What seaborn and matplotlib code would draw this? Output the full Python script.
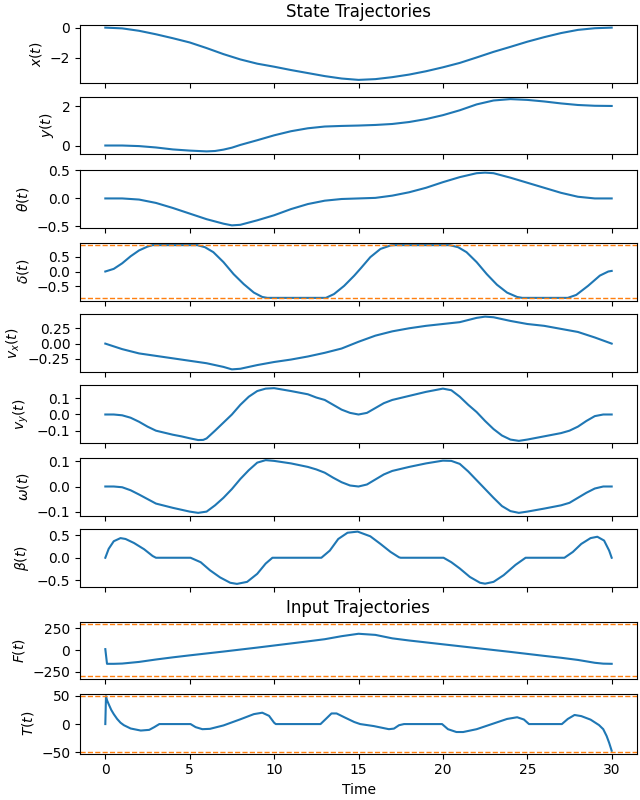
import numpy as np
import matplotlib
matplotlib.use("Agg")
import matplotlib.pyplot as plt
import seaborn as sns

# ---------------- data ----------------
x_t = [0, 1, 2, 3, 4, 5, 6, 7, 8, 9, 10, 11, 12, 13, 14, 15, 16, 17, 18, 19, 20,
       21, 22, 23, 24, 25, 26, 27, 28, 29, 30]
x_v = [0, -0.05, -0.21, -0.44, -0.7, -0.98, -1.35, -1.75, -2.1, -2.38, -2.58, -2.8,
       -3.0, -3.2, -3.36, -3.45, -3.4, -3.27, -3.1, -2.88, -2.62, -2.33, -1.97,
       -1.6, -1.27, -0.93, -0.63, -0.36, -0.15, -0.04, 0]

y_t = [0, 1, 2, 3, 4, 5, 6, 6.5, 7, 7.5, 8, 8.5, 9, 10, 11, 12, 13, 14, 15, 16, 17,
       18, 19, 20, 21, 22, 23, 24, 25, 26, 27, 28, 29, 30]
y_v = [0, 0.0, -0.03, -0.1, -0.2, -0.26, -0.3, -0.28, -0.21, -0.11, 0.03, 0.15,
       0.27, 0.52, 0.73, 0.88, 0.97, 1.0, 1.02, 1.05, 1.1, 1.2, 1.35, 1.55, 1.8,
       2.1, 2.3, 2.37, 2.33, 2.25, 2.15, 2.07, 2.03, 2.02]

th_t = [0, 1, 2, 3, 4, 5, 6, 7, 7.5, 8, 9, 10, 11, 12, 13, 14, 15, 16, 17, 18, 19,
        20, 21, 22, 22.5, 23, 24, 25, 26, 27, 28, 29, 30]
th_v = [0, 0.0, -0.02, -0.08, -0.17, -0.27, -0.37, -0.45, -0.48, -0.47, -0.39,
        -0.3, -0.19, -0.1, -0.04, -0.01, 0.0, 0.01, 0.05, 0.11, 0.19, 0.29, 0.38,
        0.45, 0.46, 0.45, 0.37, 0.28, 0.19, 0.1, 0.03, 0.0, 0.0]

de_t = [0, 0.5, 1, 1.5, 2, 2.5, 2.8, 5.45, 5.9, 6.4, 7, 7.6, 8.2, 8.8, 9.3, 9.6,
        13.07, 13.55, 14.15, 14.75, 15.15, 15.7, 16.3, 16.9, 17.1, 20.4, 20.9,
        21.4, 22, 22.6, 23.2, 23.8, 24.4, 24.7, 27.4, 27.9, 28.6, 29.3, 29.8, 30]
de_v = [0, 0.09, 0.28, 0.52, 0.72, 0.85, 0.9, 0.9, 0.83, 0.66, 0.32, -0.09, -0.43,
        -0.72, -0.87, -0.9, -0.9, -0.77, -0.49, -0.14, 0.12, 0.49, 0.77, 0.89, 0.9,
        0.9, 0.83, 0.66, 0.32, -0.09, -0.45, -0.72, -0.87, -0.9, -0.9, -0.8, -0.49,
        -0.14, 0.0, 0.02]
de_lim = 0.9

vx_t = [0, 1, 2, 3, 4, 5, 6, 7, 7.5, 8, 9, 10, 11, 12, 13, 14, 15, 16, 17, 18, 19,
        20, 21, 22, 22.5, 23, 24, 25, 26, 27, 28, 29, 30]
vx_v = [0.0, -0.09, -0.16, -0.2, -0.24, -0.28, -0.32, -0.38, -0.42, -0.41, -0.35,
        -0.3, -0.26, -0.21, -0.15, -0.08, 0.03, 0.13, 0.2, 0.25, 0.29, 0.32, 0.35,
        0.42, 0.44, 0.43, 0.37, 0.32, 0.29, 0.24, 0.19, 0.1, 0.0]

vy_t = [0, 0.5, 1, 1.5, 2, 2.5, 3, 4, 4.5, 5, 5.5, 5.8, 6, 6.5, 7, 7.5, 8, 8.5, 9,
        9.5, 10, 11, 12, 12.5, 13, 13.5, 14, 14.5, 15, 15.5, 16, 16.5, 17, 18, 19,
        20, 20.5, 21, 21.5, 22, 22.5, 23, 23.5, 24, 24.5, 25, 26, 27, 27.5, 28,
        28.5, 29, 29.5, 30]
vy_v = [0.0, 0.0, -0.005, -0.02, -0.045, -0.075, -0.1, -0.125, -0.135, -0.147,
        -0.158, -0.157, -0.148, -0.1, -0.05, 0.0, 0.06, 0.11, 0.145, 0.16, 0.163,
        0.145, 0.125, 0.105, 0.09, 0.06, 0.03, 0.01, 0.0, 0.01, 0.04, 0.07, 0.09,
        0.115, 0.14, 0.16, 0.15, 0.11, 0.06, 0.015, -0.04, -0.09, -0.13, -0.155,
        -0.163, -0.155, -0.135, -0.115, -0.1, -0.075, -0.04, -0.01, 0.0, 0.0]

om_t = [0, 0.5, 1, 1.5, 2, 2.5, 3, 4, 5, 5.5, 6, 6.5, 7, 7.5, 8, 8.5, 9, 9.5, 10,
        11, 12, 12.5, 13, 13.5, 14, 14.5, 15, 15.5, 16, 16.5, 17, 18, 19, 20, 20.5,
        21, 21.5, 22, 22.5, 23, 23.5, 24, 24.5, 25, 26, 27, 27.5, 28, 28.5, 29,
        29.5, 30]
om_v = [0.0, 0.0, -0.003, -0.015, -0.032, -0.05, -0.068, -0.085, -0.1, -0.105,
        -0.1, -0.075, -0.045, -0.01, 0.03, 0.065, 0.095, 0.105, 0.102, 0.092,
        0.078, 0.068, 0.055, 0.035, 0.017, 0.004, 0.0, 0.008, 0.028, 0.048, 0.062,
        0.078, 0.092, 0.103, 0.102, 0.09, 0.06, 0.025, -0.01, -0.045, -0.078,
        -0.098, -0.105, -0.1, -0.088, -0.075, -0.065, -0.045, -0.025, -0.008, 0.0,
        0.0]

be_t = [0, 0.2, 0.5, 0.9, 1.2, 1.7, 2.3, 2.8, 3.0, 5.05, 5.65, 6.2, 6.8, 7.4, 7.8,
        8.4, 9.0, 9.5, 9.9, 12.8, 13.3, 13.8, 14.35, 14.95, 15.7, 16.3, 16.9, 17.4,
        17.5, 20.04, 20.5, 21.0, 21.6, 22.2, 22.5, 23.0, 23.6, 24.3, 24.9, 27.2,
        27.7, 28.2, 28.75, 29.15, 29.55, 29.85, 30]
be_v = [0, 0.2, 0.37, 0.44, 0.42, 0.33, 0.19, 0.04, 0.0, 0.0, -0.1, -0.28, -0.44,
        -0.56, -0.585, -0.54, -0.36, -0.13, 0.0, 0.0, 0.16, 0.42, 0.56, 0.585,
        0.48, 0.31, 0.13, 0.01, 0.0, 0.0, -0.1, -0.24, -0.43, -0.56, -0.58, -0.54,
        -0.39, -0.16, 0.0, 0.0, 0.13, 0.31, 0.44, 0.47, 0.385, 0.16, 0.0]

F_t = [0, 0.1, 0.5, 1, 2, 3, 4, 5, 6, 7, 8, 9, 10, 11, 12, 13, 14, 15, 16, 17, 18,
       19, 20, 21, 22, 23, 24, 25, 26, 27, 28, 29, 29.5, 30]
F_v = [10, -160, -160, -157, -138, -110, -85, -62, -40, -18, 5, 28, 52, 76, 100,
       125, 160, 188, 175, 135, 110, 88, 66, 44, 22, 0, -22, -45, -68, -90, -115,
       -148, -158, -160]
F_lim = 300

T_t = [0, 0.04, 0.1, 0.2, 0.35, 0.5, 0.7, 0.9, 1.1, 1.5, 2.1, 2.6, 2.9, 3.2, 5.05,
       5.35, 5.75, 6.2, 7, 8, 8.8, 9.3, 9.7, 10, 10.1, 12.75, 13.1, 13.4, 13.7,
       14.2, 14.75, 15.1, 15.9, 16.8, 17.1, 17.4, 17.7, 19.95, 20.3, 20.8, 21.2,
       22, 23, 23.8, 24.4, 24.8, 25.1, 27.05, 27.4, 27.8, 28.2, 28.75, 29.25,
       29.5, 29.7, 29.85, 30]
T_v = [0, 49, 42, 35, 25, 17.5, 9, 2.4, -2, -7.8, -11.4, -10.2, -5.4, 0, 0, -5.4,
       -9, -8.4, -2.4, 8.4, 17.5, 20, 14.5, 2.4, 0, 0, 10, 18.7, 18.7, 11.4, 3.6,
       0, -3.5, -9, -8, -2, 0, 0, -9, -14, -14, -9, 1, 9, 12, 8, 0, 0, 9, 16, 14,
       7.8, -1.8, -9, -21, -33, -47]
T_lim = 50

series = [
    (x_t, x_v, r"$x(t)$", None),
    (y_t, y_v, r"$y(t)$", None),
    (th_t, th_v, r"$\theta(t)$", None),
    (de_t, de_v, r"$\delta(t)$", de_lim),
    (vx_t, vx_v, r"$v_x(t)$", None),
    (vy_t, vy_v, r"$v_y(t)$", None),
    (om_t, om_v, r"$\omega(t)$", None),
    (be_t, be_v, r"$\beta(t)$", None),
    (F_t, F_v, r"$F(t)$", F_lim),
    (T_t, T_v, r"$T(t)$", T_lim),
]

# ---------------- layout (pixel tops/heights of each panel) ----------------
W, H = 640, 800
tops = [25, 96.5, 170, 242.5, 314, 385.5, 457.5, 529, 621.5, 693.5]
heights = [57.5, 57.5, 58, 58, 58, 58, 58, 57.5, 57, 60]
left_px, width_px = 80, 557

fig = plt.figure(figsize=(6.4, 8), dpi=100)
axes = []
for i, (top, h) in enumerate(zip(tops, heights)):
    rect = [left_px / W, 1 - (top + h) / H, width_px / W, h / H]
    ax = fig.add_axes(rect, sharex=axes[0] if axes else None)
    axes.append(ax)

for i, (ax, (tt, vv, lab, lim)) in enumerate(zip(axes, series)):
    sns.lineplot(x=tt, y=vv, ax=ax, color="#1f77b4", linewidth=1.5)
    if lim is not None:
        ax.axhline(lim, color="#ff7f0e", linestyle="--", linewidth=1)
        ax.axhline(-lim, color="#ff7f0e", linestyle="--", linewidth=1)
    ax.set_ylabel(lab)
    if i < len(axes) - 1:
        ax.tick_params(labelbottom=False)
        ax.set_xlabel("")

axes[0].set_title("State Trajectories")
axes[8].set_title("Input Trajectories")
axes[-1].set_xlabel("Time")
axes[-1].set_xticks([0, 5, 10, 15, 20, 25, 30])

fig.savefig("out.png", dpi=100)
